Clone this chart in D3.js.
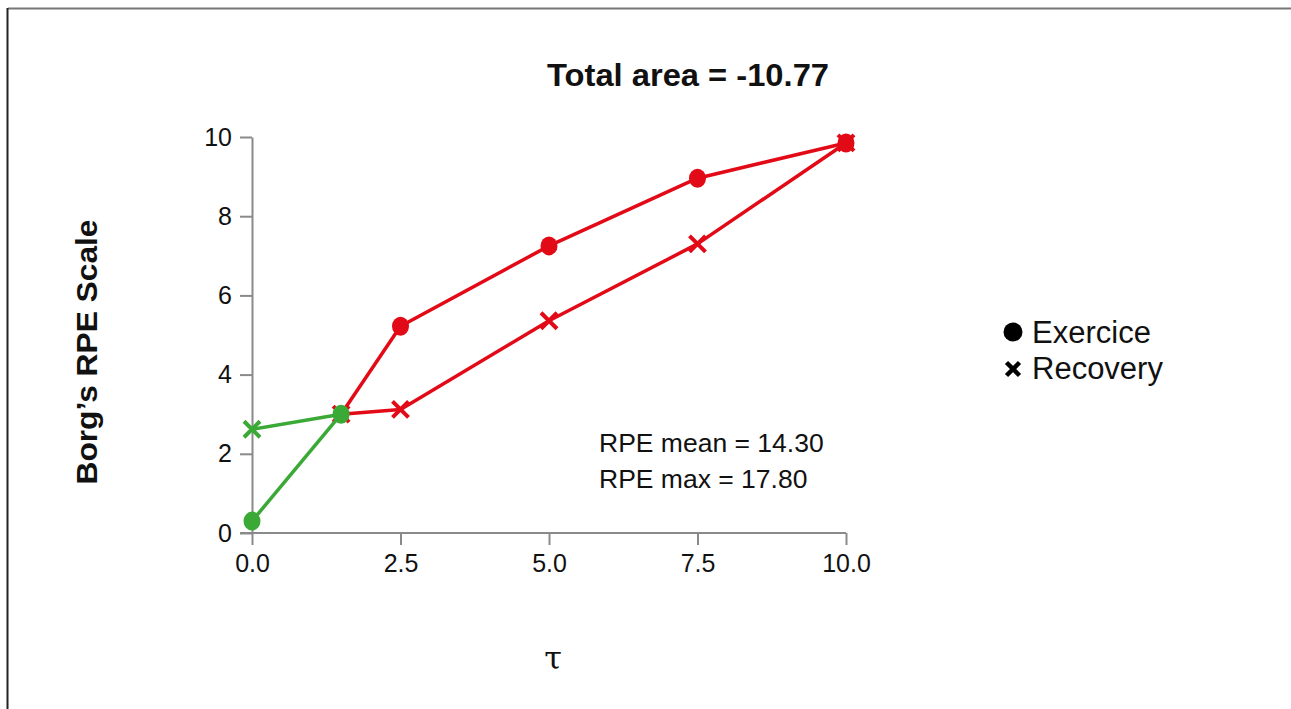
<!DOCTYPE html>
<html lang="en">
<head>
<meta charset="UTF-8">
<title>Borg RPE hysteresis</title>
<style>
  body { margin: 0; background: #fff; }
  svg { display: block; font-family: "Liberation Sans", Arial, sans-serif; }
  .axis path, .axis line { stroke: #8a8a8a; stroke-width: 2; }
  .axis text { font-size: 25px; fill: #111; }
</style>
</head>
<body>
<svg width="1291" height="709"></svg>
<script src="https://d3js.org/d3.v7.min.js"></script>
<script>
// data
const tau = [0, 1.5, 2.5, 5, 7.5, 10];
const exerciseRPE = [0.3, 3.0, 5.22, 7.25, 8.96, 9.85];
const recoveryTau = [10, 7.5, 5, 2.5, 1.5, 0];
const recoveryRPE = [9.85, 7.3, 5.36, 3.12, 3.0, 2.62];
const xTicks = [0, 2.5, 5, 7.5, 10];
const yTicks = [0, 2, 4, 6, 8, 10];
const warmupEnd = 1.5;
const titleText = "Total area = -10.77";
const statsText = ["RPE mean = 14.30", "RPE max = 17.80"];
const legendNames = ["Exercice", "Recovery"];

const RED = "#e30a17", GREEN = "#3aa935";

const svg = d3.select("svg");

// frame
svg.append("line").attr("x1", 8).attr("x2", 1291).attr("y1", 8.5).attr("y2", 8.5)
   .attr("stroke", "#777").attr("stroke-width", 2);
svg.append("line").attr("x1", 7.5).attr("x2", 7.5).attr("y1", 8).attr("y2", 709)
   .attr("stroke", "#222").attr("stroke-width", 2);

const x = d3.scaleLinear().domain([0, 10]).range([252, 846]);
const y = d3.scaleLinear().domain([0, 10]).range([533, 137]);
const tick = 12;

// axes
const gx = svg.append("g").attr("class", "axis")
  .attr("transform", `translate(0,${y(0)})`)
  .call(d3.axisBottom(x).tickValues(xTicks).tickFormat(d3.format(".1f"))
        .tickSize(tick).tickSizeOuter(0).tickPadding(9));
gx.select(".domain").attr("d", `M${x(0) - tick},0H${x(10)}`);

const gy = svg.append("g").attr("class", "axis")
  .attr("transform", `translate(${x(0)},0)`)
  .call(d3.axisLeft(y).tickValues(yTicks).tickSize(tick).tickSizeOuter(0).tickPadding(8));

// series
function build(xs, ys) {
  const pts = xs.map((v, i) => ({ x: v, y: ys[i] }));
  const segs = [];
  for (let i = 1; i < pts.length; i++) {
    const a = pts[i - 1], b = pts[i];
    const col = (a.x <= warmupEnd && b.x <= warmupEnd) ? GREEN : RED;
    segs.push({ a, b, col });
    b.col = col;
  }
  pts[0].col = pts[0].x <= warmupEnd ? GREEN : RED;
  return { pts, segs };
}
const line = d3.line().x(d => x(d.x)).y(d => y(d.y));

function crossPath(cx, cy, s) {
  return `M${cx - s},${cy - s}L${cx + s},${cy + s}M${cx - s},${cy + s}L${cx + s},${cy - s}`;
}

const rec = build(recoveryTau, recoveryRPE);
const exe = build(tau, exerciseRPE);

// recovery first, exercise on top
[rec, exe].forEach((s, k) => {
  const g = svg.append("g");
  g.selectAll("path.seg").data(s.segs).join("path").attr("class", "seg")
    .attr("d", d => line([d.a, d.b]))
    .attr("fill", "none").attr("stroke", d => d.col).attr("stroke-width", 3.5);
  if (k === 0) {
    g.selectAll("path.mk").data(s.pts).join("path").attr("class", "mk")
      .attr("d", d => crossPath(x(d.x), y(d.y), 8))
      .attr("stroke", d => d.col).attr("stroke-width", 4).attr("fill", "none");
  } else {
    g.selectAll("ellipse").data(s.pts).join("ellipse")
      .attr("cx", d => x(d.x)).attr("cy", d => y(d.y))
      .attr("rx", 8.5).attr("ry", 9.5)
      .attr("fill", d => d.col);
  }
});

// title
svg.append("text").attr("x", 688).attr("y", 86).attr("text-anchor", "middle")
  .attr("font-size", 32).attr("font-weight", "bold").attr("fill", "#111")
  .attr("textLength", 282).attr("lengthAdjust", "spacingAndGlyphs")
  .text(titleText);

// y label
svg.append("text").attr("transform", "translate(97,352) rotate(-90)")
  .attr("text-anchor", "middle").attr("font-size", 30).attr("font-weight", "bold")
  .attr("fill", "#111").attr("textLength", 265).attr("lengthAdjust", "spacingAndGlyphs")
  .text("Borg\u2019s RPE Scale");

// x label
svg.append("text").attr("x", 553).attr("y", 669).attr("text-anchor", "middle")
  .attr("font-size", 32).attr("font-family", "DejaVu Serif, serif").attr("fill", "#111")
  .text("\u03c4");

// stats
svg.append("g").selectAll("text").data(statsText).join("text")
  .attr("x", 599).attr("y", (d, i) => 452 + i * 36)
  .attr("font-size", 26.5).attr("fill", "#111").text(d => d);

// legend
const lg = svg.append("g");
lg.append("circle").attr("cx", 1013).attr("cy", 332).attr("r", 9.5).attr("fill", "#000");
lg.append("path").attr("d", crossPath(1013, 369, 6.5)).attr("stroke", "#000").attr("stroke-width", 4.5);
lg.selectAll("text").data(legendNames).join("text")
  .attr("x", 1032).attr("y", (d, i) => 343 + i * 36)
  .attr("font-size", 31).attr("fill", "#111").text(d => d);
</script>
</body>
</html>
